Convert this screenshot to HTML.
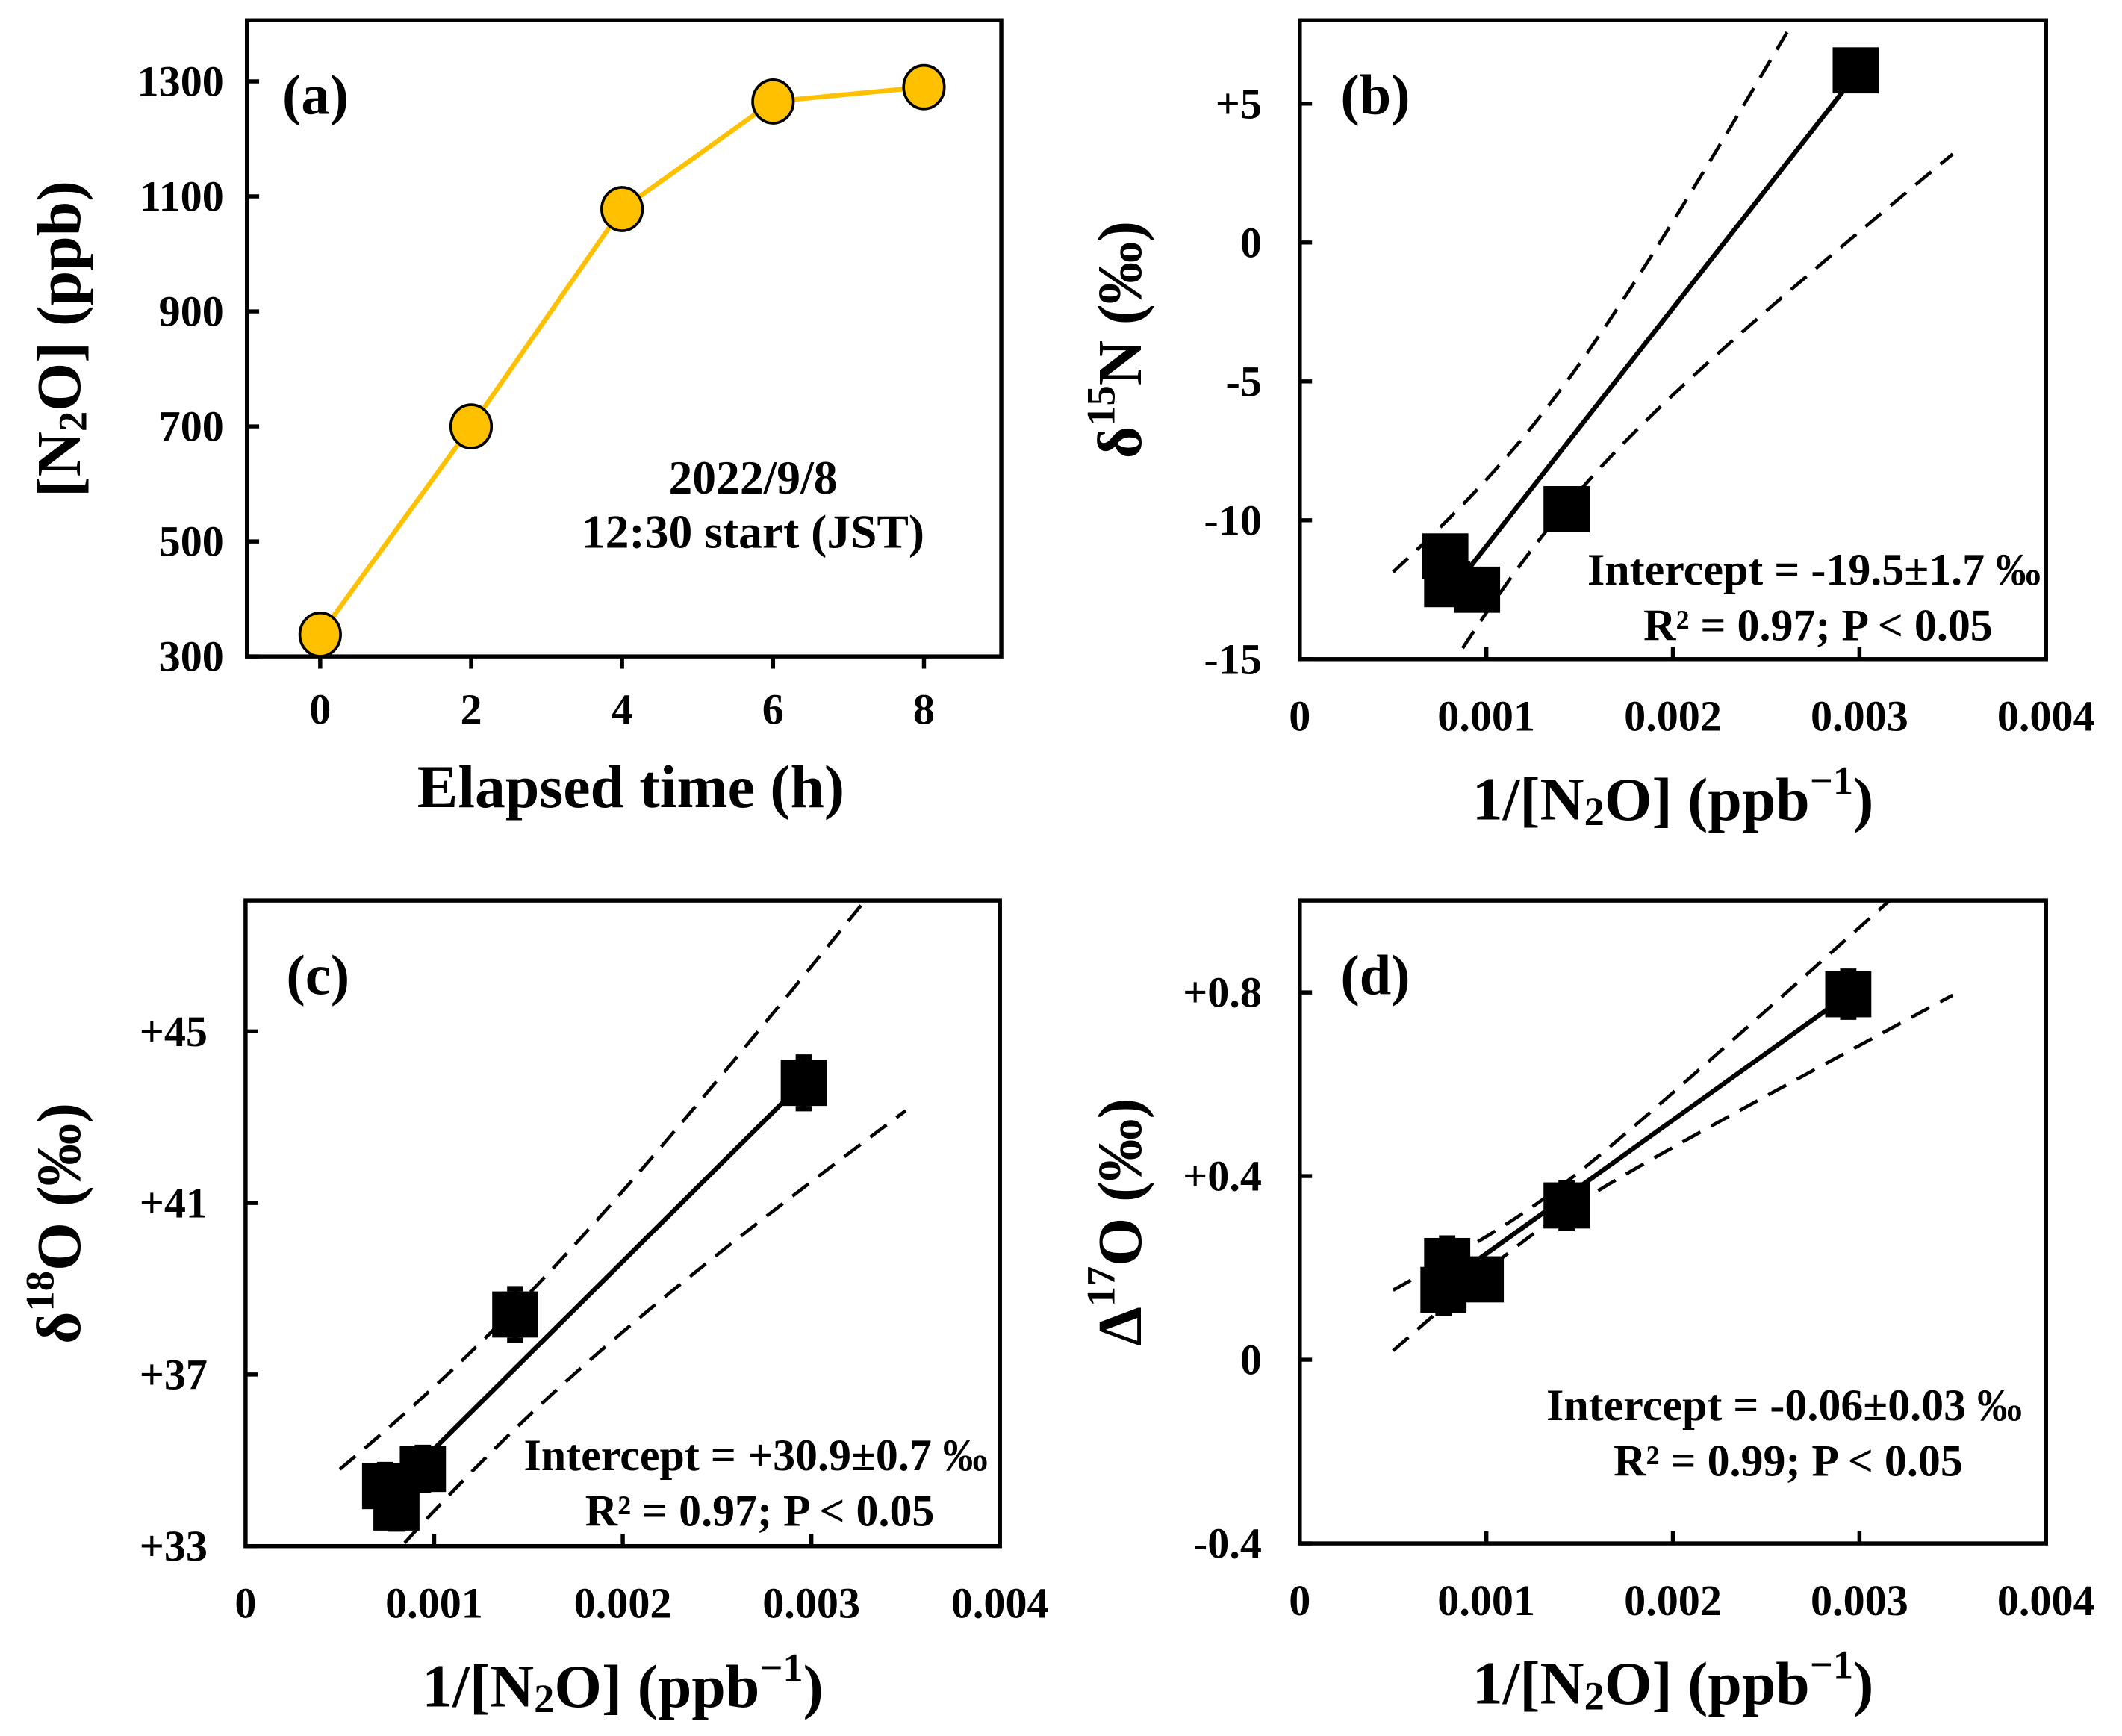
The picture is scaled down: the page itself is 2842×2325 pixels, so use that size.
<!DOCTYPE html>
<html><head><meta charset="utf-8"><style>
html,body{margin:0;padding:0;background:#fff;}
svg{display:block;}
text{font-family:"Liberation Serif",serif;font-weight:bold;fill:#000;}
</style></head><body>
<svg id="fig" width="2842" height="2325" viewBox="0 0 1564 1280" preserveAspectRatio="none" xmlns="http://www.w3.org/2000/svg"></svg>
<script>
// Panel (a)
const timeA = [0, 2, 4, 6, 8];
const n2oA = [338, 700, 1078, 1265, 1290];
const yTicksA = [300, 500, 700, 900, 1100, 1300];
const xTicksA = [0, 2, 4, 6, 8];
// Panel (b)
const invB = [0.00078, 0.00079, 0.00095, 0.00143, 0.00298];
const d15N = [-11.3, -12.3, -12.5, -9.6, 6.2];
const errB = [0.3, 0.3, 0.3, 0.3, 0.3];
const fitB = [-19.5, 8567];
const bandB = [0.0013, 2.2, 1.0e7];
const yTicksB = [-15, -10, -5, 0, 5];
const yLabelsB = ["-15", "-10", "-5", "0", "+5"];
// Panel (c)
const invC = [0.00074, 0.00080, 0.00094, 0.00143, 0.00296];
const d18O = [34.4, 33.9, 34.8, 38.4, 43.8];
const errC = [0.5, 0.5, 0.5, 0.6, 0.6];
const fitC = [30.9, 4368];
const bandC = [0.0013, 1.4, 1.5e6];
const yTicksC = [33, 37, 41, 45];
const yLabelsC = ["+33", "+37", "+41", "+45"];
// Panel (d)
const invD = [0.00079, 0.00077, 0.00097, 0.00143, 0.00294];
const D17O = [0.215, 0.152, 0.175, 0.336, 0.796];
const errD = [0.05, 0.05, 0.04, 0.05, 0.05];
const fitD = [-0.06, 291];
const bandD = [0.0013, 0.03, 5400];
const yTicksD = [-0.4, 0, 0.4, 0.8];
const yLabelsD = ["-0.4", "0", "+0.4", "+0.8"];
const xTicksInv = [0, 0.001, 0.002, 0.003, 0.004];
const xLabelsInv = ["0", "0.001", "0.002", "0.003", "0.004"];

const NS = "http://www.w3.org/2000/svg";
const svg = document.getElementById('fig');
function mk(tag, attrs, parent) {
  const e = document.createElementNS(NS, tag);
  for (const k in attrs) e.setAttribute(k, attrs[k]);
  (parent || svg).appendChild(e);
  return e;
}
function txt(str, x, y, size, anchor, name, parent, rot) {
  const t = mk('text', {x: x, y: y, 'font-size': size, 'text-anchor': anchor || 'middle', 'dominant-baseline': 'central'}, parent);
  if (rot) t.setAttribute('transform', 'rotate(-90 ' + x + ' ' + y + ')');
  t.innerHTML = str;
  
  
  return t;
}
function scale(d0, d1, r0, r1) { return v => r0 + (v - d0) / (d1 - d0) * (r1 - r0); }

function frame(g, L, T, R, B, name) {
  const r = mk('rect', {x: L, y: T, width: R - L, height: B - T, fill: 'none', stroke: '#000', 'stroke-width': 3}, g);
  
  
}

// ---------- Panel (a) ----------
(function () {
  const g = mk('g', {});
  
  
  const L = 182, R = 738, T = 15, B = 484;
  const x = scale(0, 8, 236, 681), y = scale(300, 1300, 484, 60);
  frame(g, L, T, R, B, 'panel-a-frame');
  yTicksA.forEach(v => {
    const l = mk('line', {x1: L, x2: L + 9, y1: y(v), y2: y(v), stroke: '#000', 'stroke-width': 3}, g);
    
    
    txt(String(v), L - 17, y(v), 32, 'end', 'y-tick-label', g);
  });
  xTicksA.forEach(v => {
    const l = mk('line', {x1: x(v), x2: x(v), y1: B, y2: B + 9, stroke: '#000', 'stroke-width': 3}, g);
    
    
    txt(String(v), x(v), 523, 32, 'middle', 'x-tick-label', g);
  });
  const pts = timeA.map((t, i) => x(t) + ',' + y(n2oA[i])).join(' ');
  const pl = mk('polyline', {points: pts, fill: 'none', stroke: '#FFC000', 'stroke-width': 3.5}, g);
  
  
  timeA.forEach((t, i) => {
    const c = mk('ellipse', {cx: x(t), cy: y(n2oA[i]), rx: 15, ry: 16, fill: '#FFC000', stroke: '#000', 'stroke-width': 2}, g);
    
    
  });
  txt('(a)', 208, 70, 42, 'start', 'panel-label-a', g);
  txt('2022/9/8', 555, 352, 35, 'middle', 'date-annotation', g);
  txt('12:30 start (JST)', 555, 392, 35, 'middle', 'start-time-annotation', g);
  txt('[N<tspan font-size="30" dy="9">2</tspan><tspan dy="-9">O] (ppb)</tspan>', 44, 250, 46, 'middle', 'y-axis-title', g, true);
  txt('Elapsed time (h)', 465, 580, 45, 'middle', 'x-axis-title', g);
})();

// ---------- Regression panels ----------
function regPanel(o) {
  const g = mk('g', {});
  
  
  const x = scale(0, 0.004, o.L, o.R), y = scale(o.y0, o.y1, o.B, o.T);
  const cid = o.name + '-clip';
  const cp = mk('clipPath', {id: cid}, g);
  mk('rect', {x: o.L, y: o.T, width: o.R - o.L, height: o.B - o.T}, cp);
  frame(g, o.L, o.T, o.R, o.B, o.name + '-frame');
  o.yt.forEach((v, i) => {
    const l = mk('line', {x1: o.L, x2: o.L + 9, y1: y(v), y2: y(v), stroke: '#000', 'stroke-width': 3}, g);
    
    
    txt(o.yl[i], o.L - 28, y(v), 32, 'end', 'y-tick-label', g);
  });
  xTicksInv.forEach((v, i) => {
    if (i > 0 && i < 4) {
      const l = mk('line', {x1: x(v), x2: x(v), y1: o.B, y2: o.B - 9, stroke: '#000', 'stroke-width': 3}, g);
      
      
    }
    txt(xLabelsInv[i], x(v), o.B + 42, 32, 'middle', 'x-tick-label', g);
  });
  const clipG = mk('g', {'clip-path': 'url(#' + cid + ')'}, g);
  [1, -1].forEach(s => {
    const p = [];
    for (let k = 0; k <= 60; k++) {
      const xv = 0.0005 + k * 0.003 / 60;
      const h = Math.sqrt(o.band[1] * o.band[1] + o.band[2] * (xv - o.band[0]) * (xv - o.band[0]));
      p.push(x(xv) + ',' + y(o.fit[0] + o.fit[1] * xv + s * h));
    }
    const pl = mk('polyline', {points: p.join(' '), fill: 'none', stroke: '#000', 'stroke-width': 2.5, 'stroke-dasharray': '15,9'}, clipG);
    
    
  });
  const xa = Math.max(...o.xs.slice(0, 3)) - 0.00008, xb = Math.max(...o.xs);
  const fl = mk('line', {x1: x(xa), y1: y(o.fit[0] + o.fit[1] * xa), x2: x(xb), y2: y(o.fit[0] + o.fit[1] * xb), stroke: '#000', 'stroke-width': 3.5}, clipG);
  
  
  o.xs.forEach((xv, i) => {
    const cx = x(xv), cy = y(o.ys[i]);
    const eb = mk('path', {d: 'M' + (cx - 6) + ',' + y(o.ys[i] + o.err[i]) + 'h12M' + cx + ',' + y(o.ys[i] + o.err[i]) + 'V' + y(o.ys[i] - o.err[i]) + 'M' + (cx - 6) + ',' + y(o.ys[i] - o.err[i]) + 'h12', stroke: '#000', 'stroke-width': 4, fill: 'none'}, g);
    
    
    const r = mk('rect', {x: cx - 17, y: cy - 17, width: 34, height: 34, fill: '#000'}, g);
    
    
  });
  txt(o.label, o.L + 30, o.T + 55, 42, 'start', 'panel-label', g);
  txt(o.ann1, o.ax, o.ay, 33, 'middle', 'intercept-annotation', g);
  txt(o.ann2, o.ax + 3, o.ay + 41, 33, 'middle', 'r2-annotation', g);
  txt(o.ytitle, o.ytx, (o.T + o.B) / 2, 46, 'middle', 'y-axis-title', g, true);
  txt('1/[N<tspan font-size="30" dy="9">2</tspan><tspan dy="-9">O] (ppb</tspan><tspan font-size="30" dy="-14">−1</tspan><tspan dy="14">)</tspan>', (o.L + o.R) / 2, o.B + 103, 45, 'middle', 'x-axis-title', g);
}
regPanel({name: 'panel-b', L: 958, R: 1508, T: 15, B: 486, y0: -15, y1: 8.0, xs: invB, ys: d15N, err: errB, fit: fitB, band: bandB,
  yt: yTicksB, yl: yLabelsB, label: '(b)', ann1: 'Intercept = -19.5±1.7 ‰', ann2: 'R² = 0.97; P &lt; 0.05', ax: 1337, ay: 420,
  ytitle: 'δ<tspan font-size="30" dy="-15">15</tspan><tspan dy="15">N (‰)</tspan>', ytx: 826});
regPanel({name: 'panel-c', L: 181, R: 737, T: 664, B: 1140, y0: 33, y1: 48.05, xs: invC, ys: d18O, err: errC, fit: fitC, band: bandC,
  yt: yTicksC, yl: yLabelsC, label: '(c)', ann1: 'Intercept = +30.9±0.7 ‰', ann2: 'R² = 0.97; P &lt; 0.05', ax: 557, ay: 1073,
  ytitle: 'δ<tspan font-size="30" dy="-15">18</tspan><tspan dy="15">O (‰)</tspan>', ytx: 44});
regPanel({name: 'panel-d', L: 958, R: 1508, T: 664, B: 1138, y0: -0.4, y1: 1.0, xs: invD, ys: D17O, err: errD, fit: fitD, band: bandD,
  yt: yTicksD, yl: yLabelsD, label: '(d)', ann1: 'Intercept = -0.06±0.03 ‰', ann2: 'R² = 0.99; P &lt; 0.05', ax: 1315, ay: 1036,
  ytitle: 'Δ<tspan font-size="30" dy="-15">17</tspan><tspan dy="15">O (‰)</tspan>', ytx: 826});
</script>
</body></html>
